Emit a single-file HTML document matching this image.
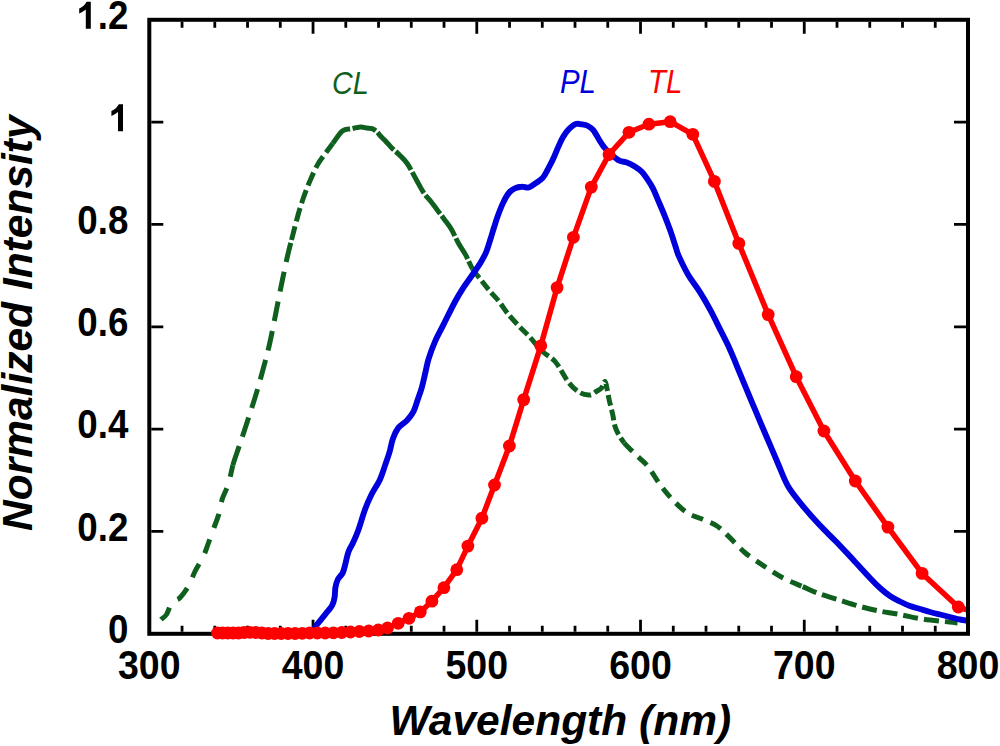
<!DOCTYPE html>
<html><head><meta charset="utf-8"><style>
html,body{margin:0;padding:0;background:#fff;width:1000px;height:746px;overflow:hidden}
svg{display:block}
text{font-family:"Liberation Sans",sans-serif}
</style></head><body>
<svg width="1000" height="746" viewBox="0 0 1000 746">
<rect width="1000" height="746" fill="#fff"/>
<defs><clipPath id="pa"><rect x="149.3" y="19.8" width="816.7" height="626.0"/></clipPath></defs>
<path d="M182.05 631.80V625.80M182.05 21.80V27.80M214.80 631.80V625.80M214.80 21.80V27.80M247.54 631.80V625.80M247.54 21.80V27.80M280.29 631.80V625.80M280.29 21.80V27.80M313.04 631.80V619.80M313.04 21.80V33.80M345.79 631.80V625.80M345.79 21.80V27.80M378.54 631.80V625.80M378.54 21.80V27.80M411.28 631.80V625.80M411.28 21.80V27.80M444.03 631.80V625.80M444.03 21.80V27.80M476.78 631.80V619.80M476.78 21.80V33.80M509.53 631.80V625.80M509.53 21.80V27.80M542.28 631.80V625.80M542.28 21.80V27.80M575.02 631.80V625.80M575.02 21.80V27.80M607.77 631.80V625.80M607.77 21.80V27.80M640.52 631.80V619.80M640.52 21.80V33.80M673.27 631.80V625.80M673.27 21.80V27.80M706.02 631.80V625.80M706.02 21.80V27.80M738.76 631.80V625.80M738.76 21.80V27.80M771.51 631.80V625.80M771.51 21.80V27.80M804.26 631.80V619.80M804.26 21.80V33.80M837.01 631.80V625.80M837.01 21.80V27.80M869.76 631.80V625.80M869.76 21.80V27.80M902.50 631.80V625.80M902.50 21.80V27.80M935.25 631.80V625.80M935.25 21.80V27.80M151.30 531.47H163.30M966.00 531.47H954.00M151.30 429.13H163.30M966.00 429.13H954.00M151.30 326.80H163.30M966.00 326.80H954.00M151.30 224.47H163.30M966.00 224.47H954.00M151.30 122.13H163.30M966.00 122.13H954.00" stroke="#000" stroke-width="2.8" fill="none"/>
<rect x="149.3" y="19.8" width="818.70" height="614.00" fill="none" stroke="#000" stroke-width="4"/>
<g clip-path="url(#pa)">
<path d="M160.9 619.5C161.8 618.7 164.8 617.1 166.5 614.5C168.2 611.9 169.6 606.3 171.1 604.0C172.6 601.7 174.0 601.6 175.5 600.5C177.0 599.4 178.0 599.9 180.2 597.5C182.4 595.1 186.1 590.4 188.6 586.0C191.1 581.6 192.8 575.9 195.2 571.0C197.6 566.1 201.0 561.3 203.1 556.9C205.2 552.5 206.1 549.4 207.9 544.5C209.7 539.6 212.2 532.6 214.0 527.6C215.8 522.6 217.4 519.1 218.8 514.3C220.2 509.5 220.8 503.6 222.4 498.6C224.0 493.6 226.7 489.7 228.4 484.1C230.2 478.5 231.1 471.5 232.9 465.1" fill="none" stroke="#0f601e" stroke-width="5" stroke-dasharray="15 12"/>
<path d="M232.9 465.1C234.7 458.7 236.6 453.9 239.3 445.8C242.0 437.8 246.0 425.9 248.9 416.8C251.8 407.7 254.3 400.2 257.0 391.1C259.7 382.0 262.9 370.2 265.0 362.2C267.1 354.2 267.9 351.5 269.8 342.9C271.7 334.3 274.2 321.4 276.3 310.7C278.4 300.0 280.8 287.7 282.7 278.6C284.6 269.5 286.0 262.5 287.5 256.1C289.0 249.7 289.8 246.5 291.5 240.0" fill="none" stroke="#0f601e" stroke-width="5" stroke-dasharray="20 10"/>
<path d="M291.5 240.0C293.2 233.5 295.5 224.2 297.5 217.0C299.5 209.8 301.6 203.0 303.7 197.0C305.8 191.0 307.6 186.4 309.9 181.1C312.2 175.8 314.9 169.5 317.3 165.1C319.7 160.7 321.6 158.5 324.2 154.9C326.8 151.3 329.7 147.5 332.7 143.5" fill="none" stroke="#0f601e" stroke-width="5" stroke-dasharray="14 5"/>
<path d="M332.7 143.5C335.7 139.5 339.3 133.5 342.4 131.0C345.5 128.5 348.5 129.4 351.5 128.7C354.5 128.0 358.1 127.1 360.6 127.0C363.1 126.9 364.7 127.7 366.6 128.0C368.5 128.3 370.4 128.0 372.2 128.6C373.9 129.2 375.8 130.7 377.1 131.8C378.4 133.0 378.6 134.0 380.0 135.5C381.4 137.0 383.5 138.9 385.5 141.0C387.5 143.1 389.5 145.7 391.8 148.0C394.1 150.3 396.9 152.4 399.5 155.0C402.1 157.6 404.4 159.4 407.2 163.5C410.0 167.6 413.5 174.6 416.2 179.5C418.9 184.4 421.2 189.0 423.6 192.7C426.1 196.4 428.6 198.6 430.9 201.5C433.2 204.4 435.4 207.5 437.6 210.4C439.8 213.3 441.9 216.0 444.2 219.2C446.5 222.4 449.2 225.6 451.5 229.5C453.8 233.4 455.9 238.6 458.2 242.8C460.5 247.0 463.1 250.2 465.5 254.6C467.9 259.0 469.8 264.5 472.6 269.0" fill="none" stroke="#0f601e" stroke-width="5" stroke-dasharray="24 2.5"/>
<path d="M472.6 269.0C475.4 273.5 479.2 277.6 482.2 281.5C485.2 285.4 487.9 288.8 490.8 292.2C493.7 295.6 496.7 298.4 499.4 301.9C502.1 305.3 504.0 308.9 507.2 312.9C510.4 316.9 514.9 321.8 518.5 325.7C522.1 329.6 525.0 331.9 529.0 336.2C533.0 340.5 538.2 347.2 542.6 351.5C547.0 355.8 551.2 356.9 555.5 362.0C559.8 367.1 564.4 377.0 568.4 382.1C572.4 387.2 576.1 390.4 579.7 392.5C583.3 394.6 587.2 395.1 590.1 394.9C593.0 394.6 595.1 392.1 597.0 391.0C598.9 389.9 600.2 389.6 601.5 388.0C602.8 386.4 604.0 381.2 605.0 381.5C606.0 381.8 606.6 386.9 607.3 390.0C608.0 393.1 608.3 396.0 609.2 400.0C610.1 404.0 611.5 409.3 612.6 414.0C613.7 418.7 613.8 423.5 615.7 428.3C617.6 433.1 620.3 437.9 624.1 442.7" fill="none" stroke="#0f601e" stroke-width="5" stroke-dasharray="11 4"/>
<path d="M624.1 442.7C627.9 447.5 634.6 453.2 638.6 457.2C642.6 461.2 644.7 462.3 648.3 466.9C651.9 471.5 656.3 479.6 660.3 485.0C664.3 490.4 668.0 494.9 672.4 499.5C676.8 504.1 682.1 509.5 686.9 512.7C691.7 515.9 696.4 516.6 701.4 518.8C706.4 521.0 712.4 523.0 717.0 526.0C721.6 529.0 724.5 532.5 729.1 536.9C733.7 541.3 739.0 547.6 744.8 552.5C750.6 557.4 757.7 561.8 764.1 566.1C770.5 570.4 777.0 574.8 783.4 578.2C789.8 581.6 796.7 584.0 802.7 586.6" fill="none" stroke="#0f601e" stroke-width="5" stroke-dasharray="12 8"/>
<path d="M802.7 586.6C808.7 589.2 813.6 591.7 819.6 593.9C825.6 596.1 832.5 597.9 838.9 599.9C845.3 601.9 851.8 604.1 858.2 605.9C864.6 607.7 870.7 609.3 877.5 610.7C884.3 612.1 891.6 613.0 899.2 614.4C906.8 615.8 914.9 617.9 923.3 619.2C931.7 620.5 944.1 621.5 949.8 622.1C955.5 622.7 956.2 622.9 957.5 623.0" fill="none" stroke="#0f601e" stroke-width="5" stroke-dasharray="15 6"/>
<path d="M313.5 631.0C313.8 630.3 314.1 628.9 315.3 627.0C316.5 625.1 318.9 622.3 320.9 619.8C322.9 617.2 325.5 614.1 327.4 611.7C329.3 609.3 331.0 607.7 332.2 605.3C333.4 602.9 334.1 600.2 334.6 597.2C335.1 594.2 334.9 590.6 335.4 587.6C335.9 584.6 336.6 581.9 337.8 579.5C339.0 577.1 341.4 575.5 342.6 573.1C343.8 570.7 344.2 568.6 345.1 565.1C346.1 561.6 347.0 556.0 348.3 552.2C349.6 548.4 351.5 546.1 353.1 542.5C354.8 538.9 356.2 536.0 358.2 530.5C360.2 525.0 362.8 515.5 365.0 509.5C367.2 503.5 369.0 499.5 371.5 494.5C374.0 489.5 377.7 484.4 380.0 479.4C382.3 474.4 383.8 469.0 385.4 464.4C387.0 459.8 388.4 455.8 389.7 451.5C390.9 447.2 391.5 442.6 392.9 438.7C394.3 434.8 396.0 430.9 398.3 427.9C400.6 424.8 404.4 423.1 406.9 420.4C409.4 417.7 411.5 415.2 413.3 411.8C415.1 408.4 416.2 404.1 417.6 400.0C419.0 395.9 420.6 391.9 421.9 387.2C423.2 382.5 424.4 376.7 425.5 372.0C426.6 367.3 427.0 363.9 428.6 358.8C430.2 353.7 432.5 347.3 435.0 341.6C437.5 335.9 440.2 331.2 443.6 324.4C447.0 317.6 452.1 307.1 455.4 301.0C458.7 294.9 460.5 292.1 463.4 287.6C466.3 283.1 469.9 278.4 472.8 274.2C475.7 270.0 478.6 265.9 480.8 262.2C483.0 258.5 484.6 255.9 486.2 252.0C487.8 248.1 489.2 243.1 490.5 239.0C491.8 234.9 492.7 231.6 494.0 227.5C495.3 223.4 496.7 218.7 498.3 214.5C499.9 210.3 501.6 205.9 503.4 202.3C505.1 198.7 506.9 195.3 508.8 193.0C510.7 190.7 512.6 189.5 514.8 188.4C517.0 187.3 519.5 186.8 521.8 186.7C524.1 186.5 526.5 188.1 528.8 187.5C531.1 186.9 533.4 184.8 535.7 183.2C538.0 181.6 540.7 180.2 542.7 177.9C544.7 175.6 546.1 172.4 547.9 169.2C549.6 166.0 551.5 162.6 553.2 158.8C555.0 155.0 556.7 150.4 558.4 146.6C560.1 142.8 561.9 139.0 563.6 136.1C565.4 133.2 566.9 131.2 568.9 129.2C570.9 127.2 573.6 124.8 575.8 124.0C578.0 123.2 580.0 124.1 582.0 124.4C584.0 124.7 586.1 125.0 588.0 126.0C589.9 127.0 591.7 128.1 593.5 130.3C595.3 132.6 597.2 136.6 599.0 139.5C600.8 142.4 602.2 144.9 604.4 147.5C606.5 150.1 609.4 152.8 611.9 155.0C614.4 157.2 616.9 159.4 619.4 160.7C621.9 161.9 624.4 161.6 626.9 162.5C629.4 163.4 631.9 164.7 634.4 166.3C636.9 167.9 639.7 169.7 641.9 171.9C644.1 174.1 645.6 176.6 647.5 179.4C649.4 182.2 651.3 185.1 653.2 188.8C655.1 192.6 656.9 197.5 658.8 201.9C660.7 206.3 662.5 210.4 664.4 215.1C666.3 219.8 668.2 224.8 670.1 230.1C672.0 235.4 674.3 242.8 675.7 247.0C677.1 251.2 676.5 250.9 678.5 255.4C680.5 259.9 684.1 267.7 687.7 273.9C691.3 280.1 696.2 286.2 700.1 292.4C704.0 298.6 707.5 304.7 710.8 310.9C714.1 317.1 717.0 323.2 720.1 329.4C723.2 335.6 726.5 341.8 729.3 347.9C732.1 354.0 734.4 360.1 737.0 366.3C739.6 372.5 742.1 378.6 744.7 384.8C747.3 391.0 749.8 397.1 752.4 403.3C755.0 409.5 757.4 415.1 760.2 421.8C763.0 428.5 766.3 436.2 769.4 443.4C772.5 450.6 775.5 457.8 778.6 465.0C781.7 472.2 784.2 479.7 788.2 486.5C792.2 493.3 797.5 499.4 802.7 505.8C807.9 512.2 814.0 519.1 819.6 525.1C825.2 531.1 830.9 536.2 836.5 542.0C842.1 547.8 847.8 554.1 853.4 560.1C859.0 566.1 865.8 573.6 870.2 578.2C874.6 582.9 876.7 585.0 880.0 588.0C883.3 591.0 886.7 593.8 890.0 596.0C893.3 598.2 896.7 599.8 900.0 601.5C903.3 603.2 906.7 604.8 910.0 606.0C913.3 607.2 916.7 608.0 920.0 609.0C923.3 610.0 926.7 611.1 930.0 612.0C933.3 612.9 936.7 613.7 940.0 614.5C943.3 615.3 946.7 616.2 950.0 617.0C953.3 617.8 956.7 618.8 960.0 619.5C963.3 620.2 968.3 620.8 970.0 621.0" fill="none" stroke="#0000dd" stroke-width="5.9" stroke-linejoin="round" stroke-linecap="round"/>
<path d="M217.5 633.0L222.6 633.0L227.8 633.0L233.1 633.0L238.5 633.0L244.1 632.5L249.9 632.3L255.8 632.5L261.9 633.0L268.1 633.5L274.6 633.5L281.2 633.5L288.0 633.5L295.0 633.5L302.2 633.3L309.6 633.0L317.3 633.0L325.2 633.0L333.4 632.8L341.8 632.5L350.5 632.0L359.4 631.5L368.7 631.0L378.3 630.0L387.5 628.0L398.2 623.3L409.0 618.3L420.3 611.9L431.9 601.2L443.9 587.7L456.8 569.7L467.9 546.1L481.9 518.2L494.5 485.0L509.4 446.0L523.7 399.6L540.8 345.8L557.1 287.6L573.4 237.3L591.3 187.1L609.0 154.5L629.0 132.3L648.9 124.2L670.2 121.7L692.8 134.3L714.4 181.4L738.8 243.4L768.2 314.6L796.2 376.7L823.9 431.0L855.3 481.0L887.9 527.1L922.1 573.4L958.3 607.0L990.0 618.0" fill="none" stroke="#ff0000" stroke-width="5.5" stroke-linejoin="round"/>
<g fill="#ff0000"><circle cx="217.5" cy="633.0" r="6.4"/><circle cx="222.6" cy="633.0" r="6.4"/><circle cx="227.8" cy="633.0" r="6.4"/><circle cx="233.1" cy="633.0" r="6.4"/><circle cx="238.5" cy="633.0" r="6.4"/><circle cx="244.1" cy="632.5" r="6.4"/><circle cx="249.9" cy="632.3" r="6.4"/><circle cx="255.8" cy="632.5" r="6.4"/><circle cx="261.9" cy="633.0" r="6.4"/><circle cx="268.1" cy="633.5" r="6.4"/><circle cx="274.6" cy="633.5" r="6.4"/><circle cx="281.2" cy="633.5" r="6.4"/><circle cx="288.0" cy="633.5" r="6.4"/><circle cx="295.0" cy="633.5" r="6.4"/><circle cx="302.2" cy="633.3" r="6.4"/><circle cx="309.6" cy="633.0" r="6.4"/><circle cx="317.3" cy="633.0" r="6.4"/><circle cx="325.2" cy="633.0" r="6.4"/><circle cx="333.4" cy="632.8" r="6.4"/><circle cx="341.8" cy="632.5" r="6.4"/><circle cx="350.5" cy="632.0" r="6.4"/><circle cx="359.4" cy="631.5" r="6.4"/><circle cx="368.7" cy="631.0" r="6.4"/><circle cx="378.3" cy="630.0" r="6.4"/><circle cx="387.5" cy="628.0" r="6.4"/><circle cx="398.2" cy="623.3" r="6.4"/><circle cx="409.0" cy="618.3" r="6.4"/><circle cx="420.3" cy="611.9" r="6.4"/><circle cx="431.9" cy="601.2" r="6.4"/><circle cx="443.9" cy="587.7" r="6.4"/><circle cx="456.8" cy="569.7" r="6.4"/><circle cx="467.9" cy="546.1" r="6.4"/><circle cx="481.9" cy="518.2" r="6.4"/><circle cx="494.5" cy="485.0" r="6.4"/><circle cx="509.4" cy="446.0" r="6.4"/><circle cx="523.7" cy="399.6" r="6.4"/><circle cx="540.8" cy="345.8" r="6.4"/><circle cx="557.1" cy="287.6" r="6.4"/><circle cx="573.4" cy="237.3" r="6.4"/><circle cx="591.3" cy="187.1" r="6.4"/><circle cx="609.0" cy="154.5" r="6.4"/><circle cx="629.0" cy="132.3" r="6.4"/><circle cx="648.9" cy="124.2" r="6.4"/><circle cx="670.2" cy="121.7" r="6.4"/><circle cx="692.8" cy="134.3" r="6.4"/><circle cx="714.4" cy="181.4" r="6.4"/><circle cx="738.8" cy="243.4" r="6.4"/><circle cx="768.2" cy="314.6" r="6.4"/><circle cx="796.2" cy="376.7" r="6.4"/><circle cx="823.9" cy="431.0" r="6.4"/><circle cx="855.3" cy="481.0" r="6.4"/><circle cx="887.9" cy="527.1" r="6.4"/><circle cx="922.1" cy="573.4" r="6.4"/><circle cx="958.3" cy="607.0" r="6.4"/></g>
</g>
<g font-weight="bold" font-size="37.5" fill="#000"><text transform="translate(128.4,642.8) scale(0.98,1.07)" text-anchor="end">0</text><text transform="translate(128.4,540.5) scale(0.98,1.07)" text-anchor="end">0.2</text><text transform="translate(128.4,438.1) scale(0.98,1.07)" text-anchor="end">0.4</text><text transform="translate(128.4,335.8) scale(0.98,1.07)" text-anchor="end">0.6</text><text transform="translate(128.4,233.5) scale(0.98,1.07)" text-anchor="end">0.8</text><path d="M123.0 131.3H118.0V112.1Q115.0 114.7 111.4 116.0V110.9Q116.5 108.7 118.8 104.2H123.0Z"/><text transform="translate(128.4,28.8) scale(0.98,1.07)" text-anchor="end">.2</text><path d="M90.8 28.8H85.8V9.6Q82.8 12.2 79.2 13.5V8.4Q84.3 6.2 86.6 1.7H90.8Z"/><text transform="translate(149.3,678.6) scale(1,1.07)" text-anchor="middle">300</text><text transform="translate(313.0,678.6) scale(1,1.07)" text-anchor="middle">400</text><text transform="translate(476.8,678.6) scale(1,1.07)" text-anchor="middle">500</text><text transform="translate(640.5,678.6) scale(1,1.07)" text-anchor="middle">600</text><text transform="translate(804.3,678.6) scale(1,1.07)" text-anchor="middle">700</text><text transform="translate(968.0,678.6) scale(1,1.07)" text-anchor="middle">800</text></g>
<text x="389.5" y="735" font-size="42.5" font-weight="bold" font-style="italic" fill="#000">Wavelength (nm)</text>
<text transform="translate(32.3,531) rotate(-90)" font-size="42.5" font-weight="bold" font-style="italic" fill="#000">Normalized Intensity</text>
<g font-size="30" font-style="italic">
<text transform="translate(332,94.4) scale(0.96,1.03)" fill="#0f601e">CL</text>
<text transform="translate(560,92.6) scale(0.98,1.08)" fill="#0000dd">PL</text>
<text transform="translate(648,92.6) scale(0.98,1.08)" fill="#ff0000">TL</text>
</g>
</svg>
</body></html>
